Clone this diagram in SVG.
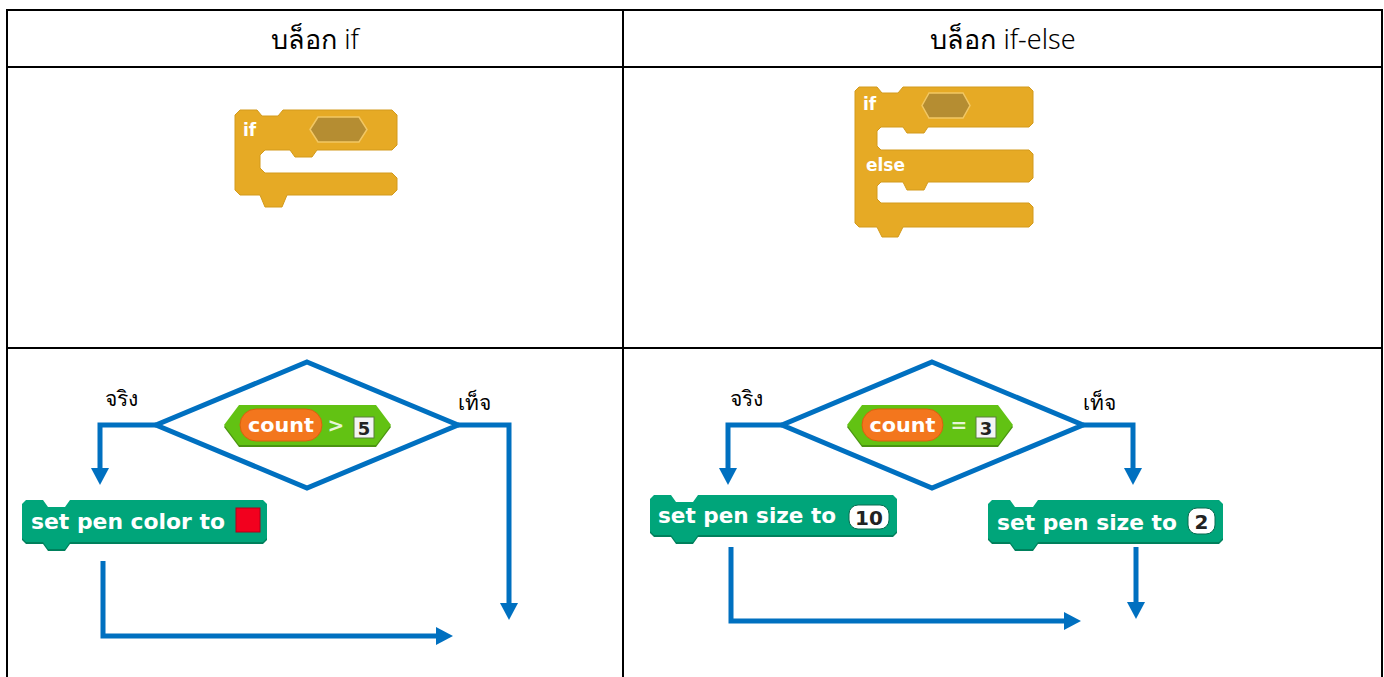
<svg xmlns="http://www.w3.org/2000/svg" width="1384" height="677" viewBox="0 0 1384 677">
<style>
.grid{stroke:#000;stroke-width:2;fill:none}
.hdr{font-family:"Noto Sans",sans-serif;font-size:27px;font-weight:300;fill:#000;text-anchor:middle}
.lbl{font-family:"Liberation Serif",serif;font-size:21px;fill:#000;text-anchor:middle}
.ctrl{fill:#E6AA25;stroke:#D39A1C;stroke-width:1}
.ctxt{font-family:"DejaVu Sans",sans-serif;font-weight:bold;font-size:17px;fill:#fff}
.slot{fill:#B58D32;stroke:#F2C763;stroke-width:1.5}
.pen{fill:#00A57A}
.penS{fill:#00805C}
.btxt{font-family:"DejaVu Sans",sans-serif;font-weight:bold;font-size:21px;fill:#fff}
.op{fill:#62C213}
.opS{fill:#4A9410}
.var{fill:#F3761D;stroke:#D9600F;stroke-width:1}
.vtxt{font-family:"DejaVu Sans",sans-serif;font-weight:bold;font-size:20px;fill:#fff;text-anchor:middle}
.sym{font-family:"DejaVu Sans",sans-serif;font-weight:bold;font-size:20px;fill:#E6F5D8;text-anchor:middle}
.box{fill:#F4F4F4;stroke:#5A7D3C;stroke-width:1}
.num{font-family:"DejaVu Sans",sans-serif;font-weight:bold;font-size:18px;fill:#222;text-anchor:middle}
.numL{font-family:"DejaVu Sans",sans-serif;font-weight:bold;font-size:20px;fill:#222;text-anchor:middle}
.flow{stroke:#0070C0;stroke-width:5;fill:none}
</style>
<defs>
<marker id="ah" viewBox="0 0 17 18" refX="0" refY="9" markerWidth="17" markerHeight="18" markerUnits="userSpaceOnUse" orient="auto">
<path d="M0,0 L17,9 L0,18 Z" fill="#0070C0"/>
</marker>
</defs>
<rect width="1384" height="677" fill="#fff"/>

<g id="table">
<path class="grid" d="M7,10 H1382 M7,67 H1382 M7,348 H1382 M7,9 V677 M623,10 V677 M1382,9 V677"/>
<text class="hdr" x="315" y="49">บล็อก if</text>
<text class="hdr" x="1003" y="49">บล็อก if-else</text>
</g>

<g id="if-block">
<path class="ctrl" d="M240,110 L257,110 L262,116 L278,116 L283,110 L392,110 L397,115 L397,145 L392,150 L317,150 L312,157 L295,157 L290,150 L265,150 L260,155 L260,168 L265,173 L392,173 L397,178 L397,190 L392,195 L287,195 L282,207 L265,207 L260,195 L240,195 L235,190 L235,115 Z"/>
<polygon class="slot" points="310,129.5 318,117 359,117 367,129.5 359,142 318,142"/>
<text class="ctxt" x="243" y="136">if</text>
</g>

<g id="if-else-block">
<path class="ctrl" d="M859,87 L877,87 L882,93 L898,93 L903,87 L1029,87 L1033,91 L1033,123 L1029,127 L928,127 L924,133 L907,133 L903,127 L881,127 L877,131 L877,146 L881,150 L1029,150 L1033,154 L1033,178 L1029,182 L928,182 L924,190 L907,190 L903,182 L881,182 L877,186 L877,199 L881,203 L1029,203 L1033,207 L1033,223 L1029,227 L903,227 L898,237 L882,237 L877,227 L859,227 L855,223 L855,91 Z"/>
<polygon class="slot" points="922,105.5 929,93 963,93 970,105.5 963,118 929,118"/>
<text class="ctxt" x="863" y="110">if</text>
<text class="ctxt" x="866" y="171">else</text>
</g>

<g id="diamond-left">
<polygon class="flow" points="307,362 458,425 307,488 156,425"/>
</g>
<g id="cond-left">
<path class="opS" d="M224,427 L239,407 L376,407 L391,427 L376,447 L239,447 Z"/>
<path class="op" d="M224,425 L239,405 L376,405 L391,425 L376,445 L239,445 Z"/>
<rect class="var" x="240" y="409" width="82" height="32" rx="16"/>
<text class="vtxt" x="281" y="432" textLength="66" lengthAdjust="spacingAndGlyphs">count</text>
<text class="sym" x="336" y="432">&gt;</text>
<rect class="box" x="354" y="417" width="20" height="21"/>
<text class="num" x="364" y="435">5</text>
</g>
<g id="label-true-left"><text class="lbl" x="121" y="406">จริง</text></g>
<g id="label-false-left"><text class="lbl" x="474" y="410">เท็จ</text></g>

<g id="block-pen-color">
<path class="penS" transform="translate(0,2)" d="M26,500 L43,500 L48,507 L65,507 L70,500 L263,500 L267,504 L267,538 L263,542 L70,542 L65,549 L48,549 L43,542 L26,542 L22,538 L22,504 Z"/>
<path class="pen" d="M26,500 L43,500 L48,507 L65,507 L70,500 L263,500 L267,504 L267,538 L263,542 L70,542 L65,549 L48,549 L43,542 L26,542 L22,538 L22,504 Z"/>
<text class="btxt" x="31" y="529" textLength="194" lengthAdjust="spacingAndGlyphs">set pen color to</text>
<rect x="236" y="508" width="24" height="24" fill="#F2001E" stroke="#B0001A" stroke-width="1"/>
</g>

<g id="diamond-right">
<polygon class="flow" points="932,362 1083,425 932,488 782,425"/>
</g>
<g id="cond-right">
<path class="opS" d="M847,427 L862,407 L998,407 L1013,427 L998,447 L862,447 Z"/>
<path class="op" d="M847,425 L862,405 L998,405 L1013,425 L998,445 L862,445 Z"/>
<rect class="var" x="862" y="409" width="81" height="32" rx="16"/>
<text class="vtxt" x="902.5" y="432" textLength="66" lengthAdjust="spacingAndGlyphs">count</text>
<text class="sym" x="959" y="432">=</text>
<rect class="box" x="976" y="417" width="20" height="21"/>
<text class="num" x="986" y="435">3</text>
</g>
<g id="label-true-right"><text class="lbl" x="746" y="406">จริง</text></g>
<g id="label-false-right"><text class="lbl" x="1099" y="410">เท็จ</text></g>

<g id="block-pen-size-10">
<path class="penS" transform="translate(0,2)" d="M654,495 L671,495 L676,502 L693,502 L698,495 L893,495 L897,499 L897,531 L893,535 L698,535 L693,542 L676,542 L671,535 L654,535 L650,531 L650,499 Z"/>
<path class="pen" d="M654,495 L671,495 L676,502 L693,502 L698,495 L893,495 L897,499 L897,531 L893,535 L698,535 L693,542 L676,542 L671,535 L654,535 L650,531 L650,499 Z"/>
<text class="btxt" x="658" y="523" textLength="178" lengthAdjust="spacingAndGlyphs">set pen size to</text>
<rect x="849" y="505" width="40" height="24" rx="9" fill="#fff" stroke="#0A6B50" stroke-width="1"/>
<text class="numL" x="869" y="524.5">10</text>
</g>

<g id="block-pen-size-2">
<path class="penS" transform="translate(0,2)" d="M992,500 L1010,500 L1015,507 L1033,507 L1038,500 L1219,500 L1223,504 L1223,538 L1219,542 L1038,542 L1033,549 L1015,549 L1010,542 L992,542 L988,538 L988,504 Z"/>
<path class="pen" d="M992,500 L1010,500 L1015,507 L1033,507 L1038,500 L1219,500 L1223,504 L1223,538 L1219,542 L1038,542 L1033,549 L1015,549 L1010,542 L992,542 L988,538 L988,504 Z"/>
<text class="btxt" x="997" y="530" textLength="180" lengthAdjust="spacingAndGlyphs">set pen size to</text>
<rect x="1188" y="508" width="27" height="26" rx="9" fill="#fff" stroke="#0A6B50" stroke-width="1"/>
<text class="numL" x="1201.5" y="528.5">2</text>
</g>

<g id="connectors">
<polyline class="flow" points="156,425 100,425 100,468" marker-end="url(#ah)"/>
<polyline class="flow" points="458,425 509,425 509,603" marker-end="url(#ah)"/>
<polyline class="flow" points="103,561 103,636 436,636" marker-end="url(#ah)"/>
<polyline class="flow" points="782,425 728,425 728,468" marker-end="url(#ah)"/>
<polyline class="flow" points="1083,425 1133,425 1133,468" marker-end="url(#ah)"/>
<polyline class="flow" points="731,547 731,621 1064,621" marker-end="url(#ah)"/>
<polyline class="flow" points="1136,547 1136,602" marker-end="url(#ah)"/>
</g>
</svg>
